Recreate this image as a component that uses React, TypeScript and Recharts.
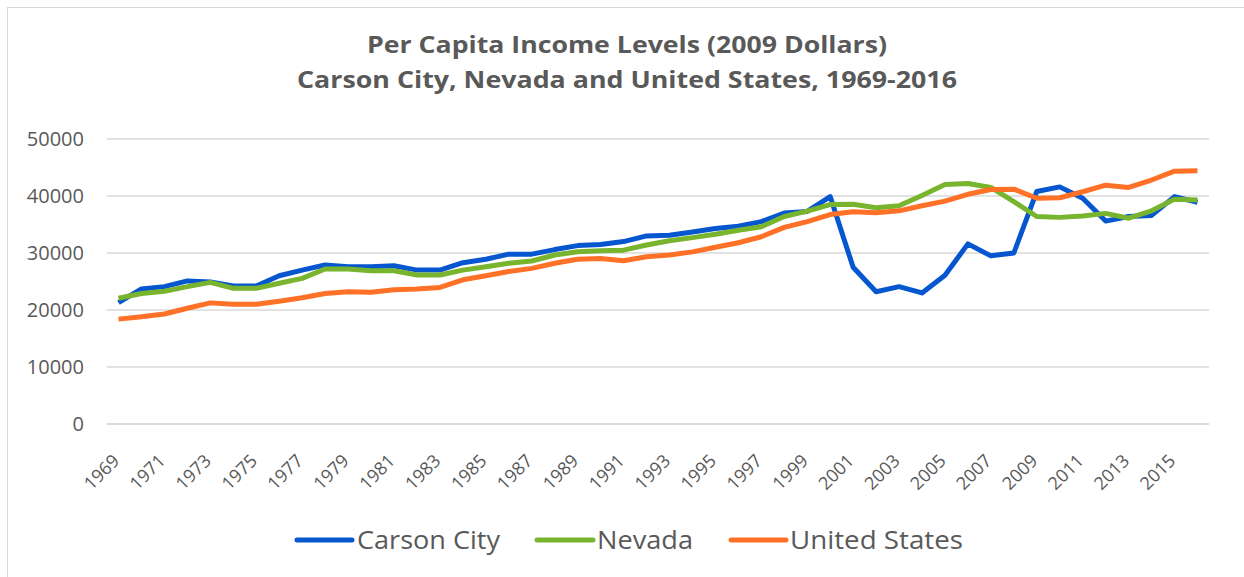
import { LineChart, Line, XAxis, YAxis, CartesianGrid } from 'recharts'

const years = [
  1969, 1970, 1971, 1972, 1973, 1974, 1975, 1976, 1977, 1978, 1979, 1980,
  1981, 1982, 1983, 1984, 1985, 1986, 1987, 1988, 1989, 1990, 1991, 1992,
  1993, 1994, 1995, 1996, 1997, 1998, 1999, 2000, 2001, 2002, 2003, 2004,
  2005, 2006, 2007, 2008, 2009, 2010, 2011, 2012, 2013, 2014, 2015, 2016,
]

const carsonCity = [
  21300, 23700, 24100, 25100, 24900, 24200, 24200, 26000, 27000, 27900, 27600, 27600,
  27750, 27000, 27000, 28300, 28900, 29800, 29800, 30600, 31300, 31500, 32000, 33000,
  33100, 33700, 34300, 34700, 35500, 37000, 37300, 39900, 27500, 23200, 24100, 23000,
  26100, 31600, 29500, 30000, 40800, 41600, 39600, 35600, 36400, 36600, 39900, 38900,
]

const nevada = [
  22050, 22900, 23300, 24100, 24850, 23800, 23800, 24700, 25550, 27200, 27200, 26900,
  26900, 26150, 26150, 27000, 27600, 28200, 28600, 29650, 30230, 30400, 30500, 31400,
  32150, 32700, 33300, 34000, 34600, 36400, 37350, 38500, 38550, 37950, 38300, 40100,
  42000, 42200, 41500, 39000, 36400, 36250, 36500, 36950, 36100, 37400, 39450, 39300,
]

const unitedStates = [
  18400, 18800, 19300, 20300, 21250, 21000, 21000, 21550, 22150, 22900, 23200, 23100,
  23550, 23700, 23950, 25300, 26000, 26750, 27300, 28200, 28900, 29050, 28650, 29350,
  29650, 30200, 31000, 31800, 32850, 34500, 35500, 36750, 37250, 37050, 37400, 38300,
  39100, 40300, 41150, 41200, 39600, 39700, 40750, 41900, 41500, 42800, 44350, 44450,
]

const yTicks = [0, 10000, 20000, 30000, 40000, 50000]

const titleLines = [
  'Per Capita Income Levels (2009 Dollars)',
  'Carson City, Nevada and United States, 1969-2016',
]

const series = [
  { key: 'carson', name: 'Carson City', color: '#0656D0', values: carsonCity },
  { key: 'nevada', name: 'Nevada', color: '#78B42E', values: nevada },
  { key: 'us', name: 'United States', color: '#FF7126', values: unitedStates },
]

const data = years.map((year, i) => ({
  year: String(year),
  carson: carsonCity[i],
  nevada: nevada[i],
  us: unitedStates[i],
}))

const textColor = '#595959'
const font = '"Open Sans", "DejaVu Sans", sans-serif'

const legendItems = [
  { icon: [297, 352], text: 357, width: 143 },
  { icon: [537, 593], text: 597, width: 96 },
  { icon: [731, 786], text: 790, width: 173 },
]

const YearTick = (props: any) => {
  const { x, y, payload } = props
  return (
    <text
      x={0}
      y={0}
      transform={`translate(${x + 2},${y + 30}) rotate(-45)`}
      textAnchor="end"
      fill={textColor}
      fontSize={18}
      fontFamily={font}
    >
      {payload.value}
    </text>
  )
}

export default function App() {
  return (
    <div style={{ position: 'absolute', left: 0, top: 0, width: 1244, height: 577, background: '#fff', overflow: 'hidden' }}>
      <div
        style={{
          position: 'absolute',
          left: 7,
          top: 7,
          width: 1250,
          height: 600,
          border: '1px solid #d9d9d9',
        }}
      />
      <svg width={1244} height={110} style={{ position: 'absolute', left: 0, top: 0 }}>
        <text x={627} y={53} textAnchor="middle" fontFamily={font} fontWeight="bold" fontSize={24} fill={textColor} textLength={520} lengthAdjust="spacingAndGlyphs">
          {titleLines[0]}
        </text>
        <text x={627} y={88} textAnchor="middle" fontFamily={font} fontWeight="bold" fontSize={24} fill={textColor} textLength={660} lengthAdjust="spacingAndGlyphs">
          {titleLines[1]}
        </text>
      </svg>
      <div style={{ position: 'absolute', left: 0, top: 0 }}>
        <LineChart width={1244} height={577} data={data} margin={{ top: 139, right: 35, bottom: 93, left: 0 }}>
          <CartesianGrid vertical={false} stroke="#d9d9d9" strokeWidth={1.5} />
          <XAxis
            dataKey="year"
            interval={1}
            tick={<YearTick />}
            tickLine={false}
            axisLine={{ stroke: '#d9d9d9', strokeWidth: 1.5 }}
            padding={{ left: 11.5, right: 11.5 }}
            height={60}
          />
          <YAxis
            domain={[0, 50000]}
            ticks={yTicks}
            width={107}
            tickLine={false}
            axisLine={false}
            tickMargin={17}
            tick={{ fill: textColor, fontSize: 20, fontFamily: font }}
          />
          {series.map((s) => (
            <Line
              key={s.key}
              dataKey={s.key}
              name={s.name}
              stroke={s.color}
              strokeWidth={5}
              dot={false}
              strokeLinejoin="round"
              isAnimationActive={false}
            />
          ))}
        </LineChart>
      </div>
      <svg width={1244} height={60} style={{ position: 'absolute', left: 0, top: 515 }}>
        {series.map((s, i) => (
          <g key={s.key}>
            <line x1={legendItems[i].icon[0]} x2={legendItems[i].icon[1]} y1={25} y2={25} stroke={s.color} strokeWidth={5} strokeLinecap="round" />
            <text x={legendItems[i].text} y={34} fontFamily={font} fontSize={26} fill={textColor} textLength={legendItems[i].width} lengthAdjust="spacingAndGlyphs">
              {s.name}
            </text>
          </g>
        ))}
      </svg>
    </div>
  )
}
